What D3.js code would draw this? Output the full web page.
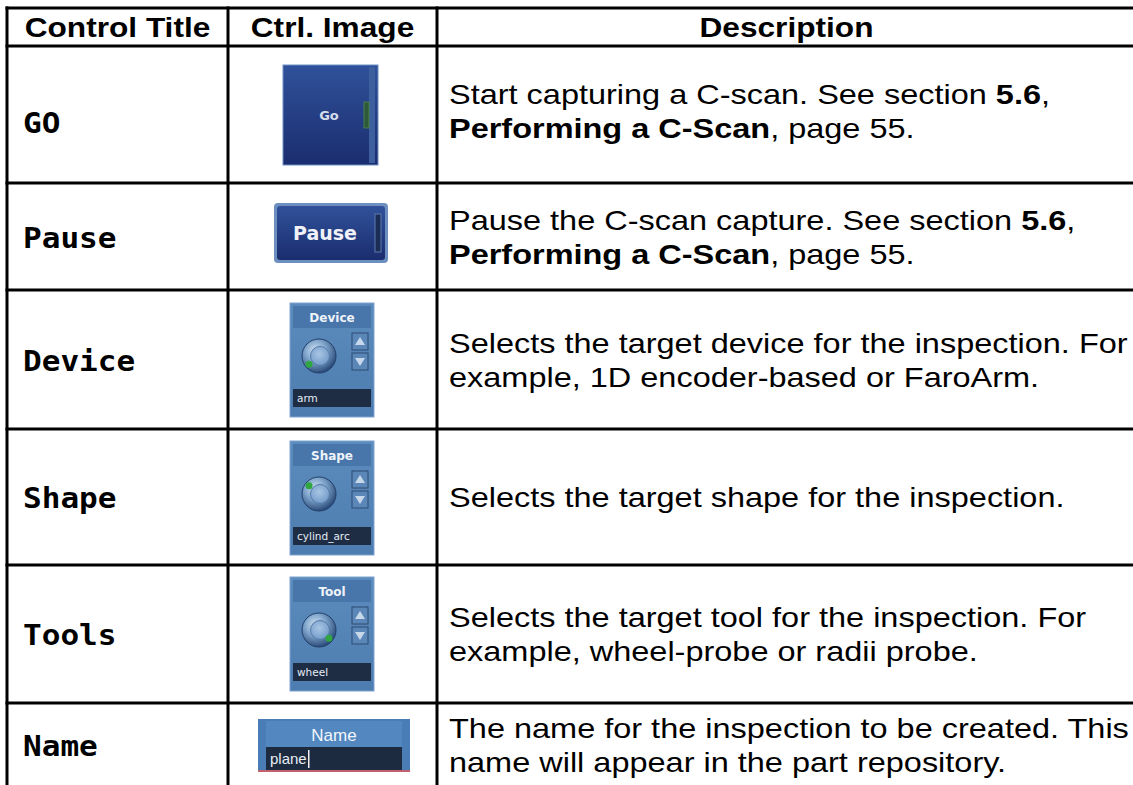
<!DOCTYPE html>
<html>
<head>
<meta charset="utf-8">
<script src="https://cdn.jsdelivr.net/npm/d3@7/dist/d3.min.js"></script>
<style>
html,body{margin:0;padding:0;background:#fff;}
svg{display:block;}
</style>
</head>
<body>
<svg id="chart" width="1133" height="785"></svg>
<script>
// ---- data ----
const headers = ["Control Title", "Ctrl. Image", "Description"];
const titles = ["GO", "Pause", "Device", "Shape", "Tools", "Name"];
const widgetKinds = ["go", "pause", "knob", "knob", "knob", "name"];
const widgetLabels = ["Go", "Pause", "Device", "Shape", "Tool", "Name"];
const widgetValues = ["", "", "arm", "cylind_arc", "wheel", "plane"];
const knobDotAngles = [0, 0, 220, 140, 320, 0];
// description lines: each line is a list of [text, bold]
const descriptions = [
  [[["Start capturing a C-scan. See section ", false], ["5.6", true], [",", false]],
   [["Performing a C-Scan", true], [", page 55.", false]]],
  [[["Pause the C-scan capture. See section ", false], ["5.6", true], [",", false]],
   [["Performing a C-Scan", true], [", page 55.", false]]],
  [[["Selects the target device for the inspection. For", false]],
   [["example, 1D encoder-based or FaroArm.", false]]],
  [[["Selects the target shape for the inspection.", false]]],
  [[["Selects the target tool for the inspection. For", false]],
   [["example, wheel-probe or radii probe.", false]]],
  [[["The name for the inspection to be created. This", false]],
   [["name will appear in the part repository.", false]]]
];
// row boundaries (y) and column boundaries (x) of the table grid
const rowEdges = [8, 46, 183, 290, 429, 565, 703, 787];
const colEdges = [7, 228, 437, 1136];

const svg = d3.select("#chart");
const W = 1133, H = 785;
const SX = 1.13;   // horizontal stretch of header / title text in the original
const SXD = 1.16;  // horizontal stretch of description text
svg.append("rect").attr("width", W).attr("height", H).attr("fill", "#fff");

const x = d3.scaleOrdinal().domain([0,1,2,3]).range(colEdges);
const y = d3.scaleOrdinal().domain(d3.range(rowEdges.length)).range(rowEdges);

// defs / gradients
const defs = svg.append("defs");
const g1 = defs.append("linearGradient").attr("id","btnGrad").attr("x1",0).attr("y1",0).attr("x2",0).attr("y2",1);
g1.append("stop").attr("offset","0%").attr("stop-color","#30519a");
g1.append("stop").attr("offset","100%").attr("stop-color","#1a2d6e");
const g2 = defs.append("linearGradient").attr("id","panelGrad").attr("x1",0).attr("y1",0).attr("x2",0).attr("y2",1);
g2.append("stop").attr("offset","0%").attr("stop-color","#5c8bbd");
g2.append("stop").attr("offset","100%").attr("stop-color","#4d7cb0");
const rg = defs.append("radialGradient").attr("id","knobGrad").attr("cx","40%").attr("cy","35%").attr("r","70%");
rg.append("stop").attr("offset","0%").attr("stop-color","#d4e4f2");
rg.append("stop").attr("offset","45%").attr("stop-color","#7fa5cc");
rg.append("stop").attr("offset","100%").attr("stop-color","#1f3f6e");
const rg2 = defs.append("radialGradient").attr("id","knobInner").attr("cx","45%").attr("cy","40%").attr("r","65%");
rg2.append("stop").attr("offset","0%").attr("stop-color","#a9c6e4");
rg2.append("stop").attr("offset","100%").attr("stop-color","#6f98c6");

// ---- header text ----
svg.append("g").selectAll("text").data(headers).join("text")
  .attr("transform", (d,i) => `translate(${(x(i) + x(i+1)) / 2},37) scale(${SX},1)`)
  .attr("text-anchor", "middle")
  .attr("font-family", "Liberation Sans, Arial, sans-serif")
  .attr("font-weight", "bold")
  .attr("font-size", 28)
  .attr("fill", "#000")
  .text(d => d);

// ---- row titles ----
svg.append("g").selectAll("text").data(titles).join("text")
  .attr("transform", (d,i) => `translate(23,${(y(i+1) + y(i+2)) / 2 + 11 + (i===0 ? 7 : 0)}) scale(${SX},1)`)
  .attr("font-family", "DejaVu Sans Mono, monospace")
  .attr("font-weight", "bold")
  .attr("font-size", 27.5)
  .attr("fill", "#000")
  .text(d => d);

// ---- descriptions ----
const lineGap = 34;
const descG = svg.append("g");
descriptions.forEach((lines, r) => {
  const cy = (y(r+1) + y(r+2)) / 2;
  const n = lines.length;
  const startY = cy - (n - 1) * lineGap / 2 + 10 + (r === 0 ? -4 : 0);
  lines.forEach((segs, li) => {
    const t = descG.append("text")
      .attr("transform", `translate(449,${startY + li * lineGap}) scale(${SXD},1)`)
      .attr("font-family", "Liberation Sans, Arial, sans-serif")
      .attr("font-size", 28)
      .attr("fill", "#000");
    t.selectAll("tspan").data(segs).join("tspan")
      .attr("font-weight", d => d[1] ? "bold" : "normal")
      .text(d => d[0]);
  });
});

// ---- widgets ----
const wg = svg.append("g");
function drawGo(cx, cy) {
  const g = wg.append("g");
  g.append("rect").attr("x", cx-47).attr("y", cy-50).attr("width", 95).attr("height", 100)
    .attr("fill", "url(#btnGrad)").attr("stroke", "#6f8fc4").attr("stroke-width", 1);
  g.append("rect").attr("x", cx+39).attr("y", cy-48).attr("width", 6).attr("height", 96).attr("fill", "#3e5f9e");
  g.append("rect").attr("x", cx+34).attr("y", cy-13).attr("width", 5).attr("height", 26).attr("fill", "#2f5a3a").attr("stroke","#4f8a4a").attr("stroke-width",0.8);
  g.append("text").attr("x", cx-1).attr("y", cy+5).attr("text-anchor","middle")
    .attr("font-family","DejaVu Sans, sans-serif").attr("font-size",13).attr("font-weight","bold").attr("fill","#d6dcea").text("Go");
}
function drawPause(cx, cy) {
  const g = wg.append("g");
  g.append("rect").attr("x", cx-57).attr("y", cy-30).attr("width", 114).attr("height", 60).attr("rx", 4)
    .attr("fill", "#6d8fc0");
  g.append("rect").attr("x", cx-54).attr("y", cy-27).attr("width", 108).attr("height", 54).attr("rx", 3)
    .attr("fill", "url(#btnGrad)");
  g.append("rect").attr("x", cx+44).attr("y", cy-19).attr("width", 6).attr("height", 38).attr("fill", "#1c2d55").attr("stroke","#5d7db4").attr("stroke-width",1);
  g.append("text").attr("x", cx-6).attr("y", cy+7).attr("text-anchor","middle")
    .attr("font-family","DejaVu Sans, sans-serif").attr("font-size",19).attr("font-weight","bold").attr("fill","#f0f2f8").text("Pause");
}
function drawKnob(cx, top, label, value, ang) {
  const g = wg.append("g");
  const left = cx - 42, w = 84, h = 114;
  g.append("rect").attr("x", left).attr("y", top).attr("width", w).attr("height", h).attr("fill", "url(#panelGrad)").attr("stroke","#7ea4cf").attr("stroke-width",1);
  g.append("rect").attr("x", left+3).attr("y", top+3).attr("width", w-6).attr("height", 22).attr("fill", "#4976aa");
  g.append("text").attr("x", cx).attr("y", top+19).attr("text-anchor","middle")
    .attr("font-family","DejaVu Sans, sans-serif").attr("font-size",12).attr("font-weight","bold").attr("fill","#eef3fa").text(label);
  const kx = left + 29, ky = top + 53;
  g.append("circle").attr("cx", kx).attr("cy", ky).attr("r", 17).attr("fill", "url(#knobGrad)").attr("stroke","#233f6a").attr("stroke-width",1);
  g.append("circle").attr("cx", kx+1).attr("cy", ky).attr("r", 9.5).attr("fill", "url(#knobInner)").attr("stroke","#5479a8").attr("stroke-width",1);
  const a = ang * Math.PI / 180;
  g.append("circle").attr("cx", kx + 13*Math.cos(a)).attr("cy", ky - 13*Math.sin(a)).attr("r", 3.5).attr("fill", "#2fa640");
  // arrows
  const ax = left + 62;
  [[top+30, true],[top+50, false]].forEach(([by, up]) => {
    g.append("rect").attr("x", ax).attr("y", by).attr("width", 16).attr("height", 17).attr("fill","#5a87b8").attr("stroke","#2c4a72").attr("stroke-width",1);
    const p = up ? `M${ax+3},${by+12} L${ax+13},${by+12} L${ax+8},${by+4} Z` : `M${ax+3},${by+5} L${ax+13},${by+5} L${ax+8},${by+13} Z`;
    g.append("path").attr("d", p).attr("fill", "#c8d8ea");
  });
  g.append("rect").attr("x", left+3).attr("y", top+86).attr("width", w-6).attr("height", 18).attr("fill", "#1e2d44");
  g.append("text").attr("x", left+7).attr("y", top+99)
    .attr("font-family","DejaVu Sans, sans-serif").attr("font-size",10.5).attr("fill","#e6ecf4").text(value);
}
function drawName(cx, top, label, value) {
  const g = wg.append("g");
  g.append("rect").attr("x", cx-76).attr("y", top).attr("width", 152).attr("height", 53).attr("fill", "#4a7db5");
  g.append("rect").attr("x", cx-68).attr("y", top+2).attr("width", 136).attr("height", 26).attr("fill", "#5287c0");
  g.append("text").attr("x", cx).attr("y", top+22).attr("text-anchor","middle")
    .attr("font-family","Liberation Sans, Arial, sans-serif").attr("font-size",17).attr("fill","#f2f6fb").text(label);
  g.append("rect").attr("x", cx-68).attr("y", top+28).attr("width", 136).attr("height", 23).attr("fill", "#1c2b40");
  g.append("rect").attr("x", cx-76).attr("y", top+51).attr("width", 152).attr("height", 2).attr("fill", "#c06070");
  g.append("text").attr("x", cx-64).attr("y", top+45)
    .attr("font-family","Liberation Sans, Arial, sans-serif").attr("font-size",15).attr("fill","#e8eef6").text(value);
  g.append("rect").attr("x", cx-26).attr("y", top+31).attr("width", 1.5).attr("height", 18).attr("fill", "#f0f0f0");
}

widgetKinds.forEach((k, i) => {
  if (k === "go") drawGo(330, 115);
  else if (k === "pause") drawPause(331, 233);
  else if (k === "knob") drawKnob(332, [303, 441, 577][i-2], widgetLabels[i], widgetValues[i], knobDotAngles[i]);
  else if (k === "name") drawName(334, 719, widgetLabels[i], widgetValues[i]);
});

// ---- grid lines ----
const grid = svg.append("g").attr("stroke", "#000").attr("stroke-width", 3);
grid.selectAll("line.h").data(rowEdges.slice(0, -1)).join("line").attr("class","h")
  .attr("x1", x(0) - 1.5).attr("x2", W).attr("y1", d => d).attr("y2", d => d);
grid.selectAll("line.v").data(colEdges).join("line").attr("class","v")
  .attr("x1", d => d).attr("x2", d => d).attr("y1", y(0) - 1.5).attr("y2", H);
</script>
</body>
</html>
